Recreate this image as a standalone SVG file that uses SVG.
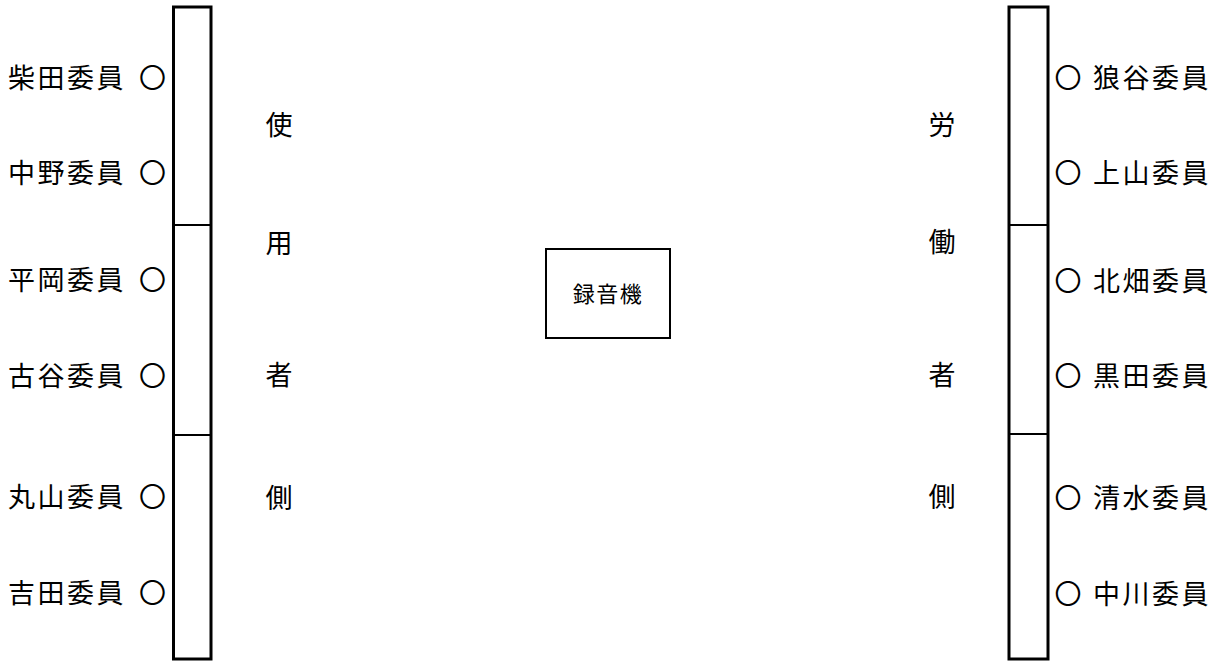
<svg xmlns="http://www.w3.org/2000/svg" width="1224" height="661" viewBox="0 0 1224 661">
<style>
.t{font-family:"Noto Sans CJK JP","Noto Sans CJK SC",sans-serif;font-size:27px;fill:#000;dominant-baseline:central}
.n{letter-spacing:2.5px}
.v{text-anchor:middle}
.box{fill:#fff;stroke:#000;stroke-width:3}
.div{stroke:#000;stroke-width:2}
.rec{fill:#fff;stroke:#000;stroke-width:2}
.c{font-family:"Noto Sans CJK JP","Noto Sans CJK SC",sans-serif;font-size:22px;text-anchor:middle;dominant-baseline:central}
</style>
<rect width="1224" height="661" fill="#fff"/>
<g id="left-table">
<rect class="box" x="173.5" y="7" width="37.5" height="652"/>
<line class="div" x1="173" y1="225" x2="211" y2="225"/>
<line class="div" x1="173" y1="435" x2="211" y2="435"/>
</g>
<g id="right-table">
<rect class="box" x="1009" y="7" width="39" height="652"/>
<line class="div" x1="1009" y1="225" x2="1048" y2="225"/>
<line class="div" x1="1009" y1="434" x2="1048" y2="434"/>
</g>
<g id="left-members">
<text class="t" y="76"><tspan class="n" x="8">柴田委員</tspan><tspan x="139">〇</tspan></text>
<text class="t" y="171"><tspan class="n" x="8">中野委員</tspan><tspan x="139">〇</tspan></text>
<text class="t" y="278"><tspan class="n" x="8">平岡委員</tspan><tspan x="139">〇</tspan></text>
<text class="t" y="374"><tspan class="n" x="8">古谷委員</tspan><tspan x="139">〇</tspan></text>
<text class="t" y="495"><tspan class="n" x="8">丸山委員</tspan><tspan x="139">〇</tspan></text>
<text class="t" y="591"><tspan class="n" x="8">吉田委員</tspan><tspan x="139">〇</tspan></text>
</g>
<g id="right-members">
<text class="t" y="76"><tspan x="1054.5">〇</tspan><tspan class="n" x="1093">狼谷委員</tspan></text>
<text class="t" y="171"><tspan x="1054.5">〇</tspan><tspan class="n" x="1093">上山委員</tspan></text>
<text class="t" y="279"><tspan x="1054.5">〇</tspan><tspan class="n" x="1093">北畑委員</tspan></text>
<text class="t" y="374"><tspan x="1054.5">〇</tspan><tspan class="n" x="1093">黒田委員</tspan></text>
<text class="t" y="496"><tspan x="1054.5">〇</tspan><tspan class="n" x="1093">清水委員</tspan></text>
<text class="t" y="592"><tspan x="1054.5">〇</tspan><tspan class="n" x="1093">中川委員</tspan></text>
</g>
<g id="employer-side">
<text class="t v" x="279" y="123">使</text>
<text class="t v" x="279" y="241">用</text>
<text class="t v" x="279" y="373">者</text>
<text class="t v" x="279" y="496">側</text>
</g>
<g id="worker-side">
<text class="t v" x="942" y="123">労</text>
<text class="t v" x="942" y="240">働</text>
<text class="t v" x="942" y="373">者</text>
<text class="t v" x="942" y="495">側</text>
</g>
<g id="recorder">
<rect class="rec" x="546" y="249" width="124" height="89"/>
<text class="c" x="608" y="292" letter-spacing="1.5">録音機</text>
</g>
<g id="connectors"></g>
</svg>
